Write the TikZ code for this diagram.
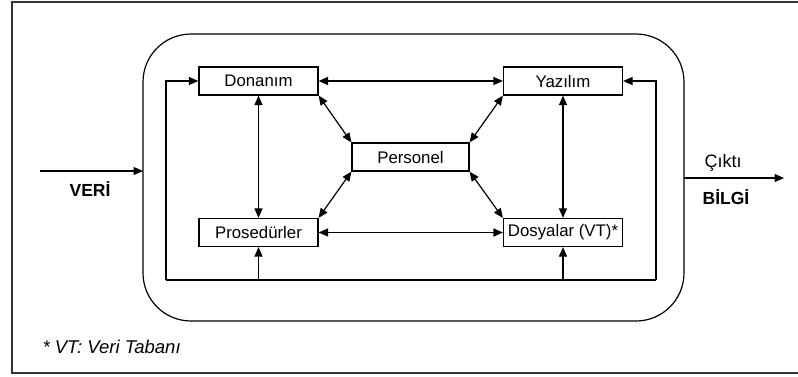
\documentclass[tikz,border=0pt]{standalone}
\usepackage{fontspec}
\setmainfont{Liberation Sans}
\usetikzlibrary{arrows.meta}
\begin{document}
\begin{tikzpicture}[x=1pt,y=-1pt,
  lw/.style={line width=1.2pt},
  box/.style={draw,lw,minimum width=119pt,minimum height=28pt,inner sep=0pt,
    font=\fontsize{16.8}{18}\selectfont},
  arr/.style={lw,-{Triangle[length=9.5pt,width=8pt]}},
  darr/.style={lw,{Triangle[length=9.5pt,width=8pt]}-{Triangle[length=9.5pt,width=8pt]}},
  lbl/.style={font=\fontsize{18}{20}\selectfont},
  blbl/.style={font=\fontsize{17.5}{19}\selectfont\bfseries}]
\useasboundingbox (0,0) rectangle (798,376);
% outer frame (open on the right)
\draw[line width=2pt,black!80] (800,1.5) -- (12,1.5) -- (12,373) -- (800,373);
% system boundary
\draw[lw,rounded corners=48pt] (143,34) rectangle (684,321);
% components
\node[box] (don) at (258.5,81) {Donanım};
\node[box] (yaz) at (563,81) {Yazılım};
\node[box,minimum width=117pt] (per) at (410.5,157) {Personel};
\node[box] (pro) at (258.5,232.5) {Prosedürler};
\node[box] (dos) at (563,232.5) {Dosyalar (VT)*};
% links between components
\draw[darr] (don) -- (yaz);
\draw[darr] (pro) -- (dos);
\draw[darr] (don) -- (pro);
\draw[darr] (yaz) -- (dos);
\draw[darr] (don.south east) -- (per.north west);
\draw[darr] (yaz.south west) -- (per.north east);
\draw[darr] (per.south west) -- (pro.north east);
\draw[darr] (per.south east) -- (dos.north west);
% feedback loop
\coordinate (fbL) at (166,280);
\coordinate (fbR) at (656,280);
\draw[lw] (fbL) -- (fbR);
\draw[arr] (fbL) |- (don.west);
\draw[arr] (fbR) |- (yaz.east);
\draw[arr] (pro.south |- fbL) -- (pro.south);
\draw[arr] (dos.south |- fbL) -- (dos.south);
% input and output
\coordinate (inS) at (40,171);
\coordinate (inE) at (143,171);
\draw[arr] (inS) -- (inE);
\node[blbl] (veri) at (90,189) {VERİ};
\coordinate (outS) at (684,178);
\coordinate (outE) at (784,178);
\draw[arr] (outS) -- (outE);
\node[lbl] (cikti) at (723,163) {Çıktı};
\node[blbl] (bilgi) at (726,197) {BİLGİ};
% footnote
\node[font=\fontsize{18.5}{20}\selectfont\itshape,anchor=west] (note) at (39,347) {* VT: Veri Tabanı};
\end{tikzpicture}
\end{document}
